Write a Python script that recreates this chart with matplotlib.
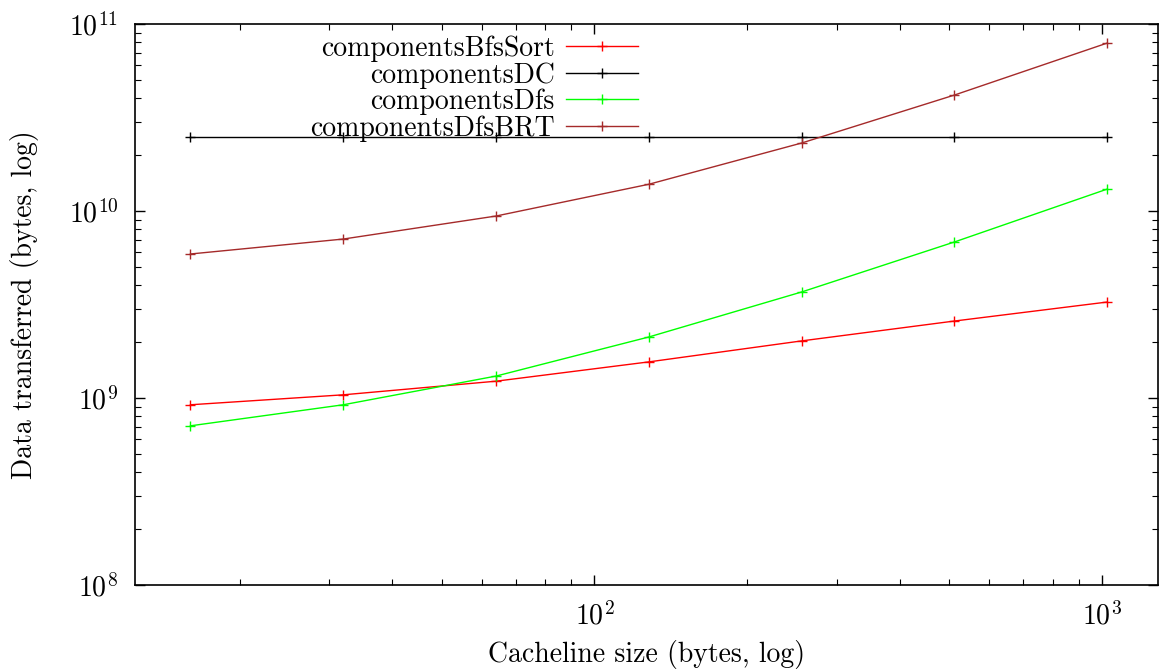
import matplotlib
matplotlib.use("Agg")
import matplotlib.pyplot as plt
from matplotlib.ticker import LogLocator

# Cache line sizes (bytes)
cacheline = [16, 32, 64, 128, 256, 512, 1024]

# Data transferred (bytes) per algorithm
bfs_sort = [9.2e8, 1.04e9, 1.23e9, 1.56e9, 2.02e9, 2.58e9, 3.26e9]
dc = [2.49e10, 2.49e10, 2.49e10, 2.49e10, 2.49e10, 2.49e10, 2.49e10]
dfs = [7.1e8, 9.2e8, 1.31e9, 2.12e9, 3.69e9, 6.83e9, 1.31e10]
dfs_brt = [5.89e9, 7.08e9, 9.4e9, 1.39e10, 2.31e10, 4.17e10, 7.91e10]

series_names = ["componentsBfsSort", "componentsDC", "componentsDfs", "componentsDfsBRT"]

plt.rcParams["font.family"] = ["cmr10"]
plt.rcParams["mathtext.fontset"] = "cm"
plt.rcParams["axes.formatter.use_mathtext"] = True

FS = 20

fig = plt.figure(figsize=(11.65, 6.72), dpi=100)
ax = fig.add_axes([135 / 1165, 1 - 585 / 672, (1158 - 135) / 1165, (585 - 24) / 672])

styles = [("#ff0000", bfs_sort), ("#000000", dc), ("#00ff00", dfs), ("#a52a2a", dfs_brt)]
for name, (color, vals) in zip(series_names, styles):
    ax.plot(cacheline, vals, color=color, lw=1.0, marker="+", ms=7,
            mew=1.0, label=name)

ax.set_xscale("log")
ax.set_yscale("log")
ax.set_xlim(12.44, 1289)
ax.set_ylim(1e8, 1e11)

ax.xaxis.set_major_locator(LogLocator(base=10))
ax.yaxis.set_major_locator(LogLocator(base=10))
ax.xaxis.set_minor_locator(LogLocator(base=10, subs=range(2, 10)))
ax.yaxis.set_minor_locator(LogLocator(base=10, subs=range(2, 10)))
ax.xaxis.set_minor_formatter(plt.NullFormatter())
ax.yaxis.set_minor_formatter(plt.NullFormatter())

ax.tick_params(which="both", direction="in", top=True, right=True, labelsize=FS)
ax.tick_params(which="major", length=7, width=1.0, pad=12)
ax.tick_params(which="minor", length=4, width=0.8)
for s in ax.spines.values():
    s.set_linewidth(1.2)

ax.set_xlabel("Cacheline size (bytes, log)", fontsize=FS, labelpad=7)
ax.set_ylabel("Data transferred (bytes, log)", fontsize=FS, labelpad=21)

leg = ax.legend(loc="upper left", bbox_to_anchor=(0.155, 1.009), frameon=False,
                markerfirst=False, fontsize=FS, handlelength=2.6,
                handletextpad=0.4, labelspacing=0.0, borderaxespad=0.2)

fig.savefig("out.png", dpi=100)
